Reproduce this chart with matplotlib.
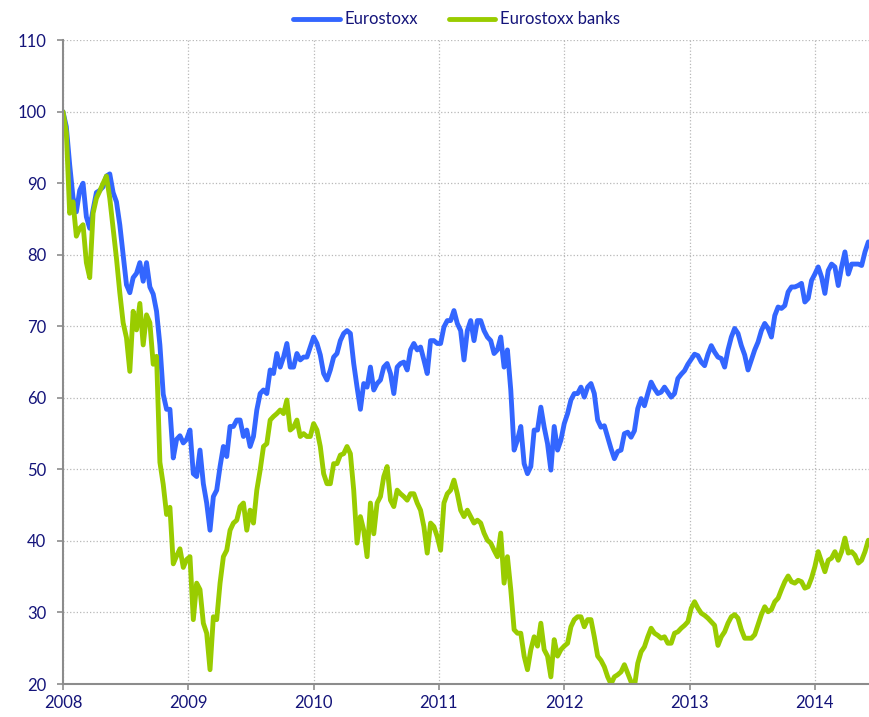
import numpy as np
import matplotlib
matplotlib.use("Agg")
import matplotlib.pyplot as plt

# Eurostoxx vs Eurostoxx banks, index 2008 = 100 (~10-day steps)
stoxx = [
    # 2008
    100, 97.9, 92.6, 88.0, 86.0, 89.0, 90.0, 85.3, 83.7, 86.3, 88.7, 89.0, 89.5,
    91.0, 91.3, 88.7, 87.4, 84.2, 80.0, 75.8, 74.7, 76.8, 77.4, 78.9, 76.3, 78.9,
    75.5, 74.5, 72.1, 67.4, 60.5, 58.4, 58.4, 51.6, 54.2, 54.7, 53.7, 54.2,
    # 2009
    55.5, 49.4, 49.0, 52.7, 48.0, 45.3, 41.5, 46.2, 47.1, 50.4, 53.2, 51.8, 56.0,
    56.0, 56.9, 56.9, 54.6, 55.5, 53.2, 54.6, 58.3, 60.6, 61.1, 60.6, 63.9, 63.4,
    66.2, 64.3, 65.7, 67.6, 64.3, 64.3, 66.2, 65.3, 65.7, 65.7, 67.1, 68.5,
    67.6, 66.0, 63.4, 62.5,
    # 2010
    63.9, 65.7, 66.2, 68.0, 69.0, 69.4, 69.0, 64.8, 61.5, 58.4, 62.0, 61.5, 64.3,
    61.1, 62.0, 62.5, 64.3, 64.8, 63.4, 60.6, 64.3, 64.8, 65.0, 63.9, 66.7, 67.6,
    66.7, 67.1, 65.3, 63.4, 68.0, 68.0, 67.6, 67.6, 69.9, 70.8,
    # 2011
    70.8, 72.2, 70.4, 69.4, 65.3, 69.4, 70.8, 68.0, 70.8, 70.8, 69.4, 68.5, 68.0,
    66.2, 66.7, 68.5, 64.3, 66.7, 61.1, 52.7, 54.1, 56.0, 50.8, 49.4, 50.4, 55.5,
    55.5, 58.7, 55.9, 53.6, 49.9, 56.0, 52.7, 54.1, 56.4, 57.8, 59.7, 60.6,
    60.6, 61.5, 60.1, 61.5, 62.0, 60.6, 56.9,
    # 2012
    55.9, 56.1, 54.5, 52.9, 51.5, 52.5, 52.7, 55.0, 55.2, 54.5, 55.4, 58.5, 59.9,
    58.9, 60.6, 62.2, 61.3, 60.6, 60.8, 61.5, 60.8, 60.1, 60.6, 62.7, 63.3, 63.8,
    64.7, 65.4, 66.1, 65.9, 65.0, 64.5, 66.1, 67.3, 66.4, 65.7,
    # 2013 - 2014
    65.5, 64.3, 66.7, 68.5, 69.7, 69.0, 67.3, 66.0, 63.9, 65.3, 66.7, 67.8, 69.4,
    70.4, 69.7, 68.5, 71.5, 72.7, 72.5, 72.9, 74.8, 75.5, 75.5, 75.7, 76.0, 73.4,
    73.9, 76.4, 77.3, 78.3, 76.9, 74.6, 77.8, 78.7, 78.3, 75.7, 78.3, 80.4,
    77.3, 78.7, 78.7, 78.7, 78.5, 80.4, 81.8,
]

banks = [
    # 2008
    100, 97.1, 85.8, 87.4, 82.6, 83.7, 84.2, 78.9, 76.8, 85.8, 87.9, 88.9, 90.0,
    91.0, 87.9, 83.7, 79.5, 74.7, 70.5, 68.4, 63.7, 72.1, 69.5, 73.2, 67.4, 71.6,
    70.5, 64.7, 65.8, 51.0, 47.9, 43.7, 44.7, 36.8, 37.9, 38.9, 36.3, 37.4,
    # 2009
    37.8, 29.0, 34.1, 33.2, 28.5, 27.1, 22.0, 29.4, 29.0, 34.1, 37.8, 38.7, 41.5,
    42.5, 42.9, 44.8, 45.3, 41.5, 44.3, 42.5, 47.1, 49.9, 53.2, 53.6, 56.9, 57.4,
    57.8, 58.3, 57.8, 59.7, 55.5, 55.9, 56.9, 54.6, 55.0, 54.6, 54.6, 56.4,
    55.5, 53.2, 49.4, 48.0,
    # 2010
    48.0, 50.8, 50.8, 52.0, 52.2, 53.2, 52.2, 47.1, 39.7, 43.4, 41.5, 37.8, 45.3,
    41.0, 45.3, 46.2, 49.0, 50.4, 45.7, 44.8, 47.1, 46.6, 46.2, 45.7, 46.6, 46.6,
    45.3, 44.3, 42.0, 38.3, 42.5, 42.0, 40.6, 38.7, 45.3, 46.6,
    # 2011
    47.1, 48.5, 46.6, 44.3, 43.4, 44.3, 43.4, 42.5, 42.9, 42.5, 41.1, 40.1, 39.7,
    38.7, 37.8, 41.1, 34.1, 37.8, 33.2, 27.6, 27.1, 27.1, 23.9, 22.0, 24.8, 26.6,
    25.3, 28.5, 24.8, 23.9, 21.0, 26.2, 23.9, 24.8, 25.3, 25.7, 28.0, 29.0,
    29.4, 29.4, 28.0, 29.0, 29.0, 26.6, 23.9,
    # 2012
    23.3, 22.4, 21.0, 20.0, 21.0, 21.3, 21.7, 22.7, 21.5, 20.3, 19.6, 22.9, 24.5,
    25.2, 26.6, 27.8, 27.1, 26.8, 26.4, 26.6, 25.7, 25.7, 27.1, 27.3, 27.8, 28.2,
    28.7, 30.6, 31.5, 30.6, 29.9, 29.6, 29.2, 28.7, 28.2, 25.4,
    # 2013 - 2014
    26.6, 27.3, 28.5, 29.4, 29.7, 29.2, 27.6, 26.4, 26.4, 26.4, 26.9, 28.3, 29.7,
    30.8, 30.1, 30.4, 31.5, 32.0, 33.2, 34.3, 35.1, 34.3, 34.1, 34.5, 34.3, 33.4,
    33.6, 34.8, 36.4, 38.5, 37.1, 35.7, 37.3, 37.6, 38.5, 37.3, 38.5, 40.4,
    38.3, 38.5, 38.0, 36.9, 37.3, 38.5, 40.1,
]

years = [2008, 2009, 2010, 2011, 2012, 2013, 2014]
t = 2008 + np.arange(len(stoxx)) / 37.5

navy = "#14147a"
plt.rcParams["font.family"] = ["Lato", "DejaVu Sans"]

fig = plt.figure(figsize=(8.7, 7.17), dpi=100)
ax = fig.add_axes([0.0724, 0.046, 0.9276, 0.898])

ax.plot(t, stoxx, color="#3366ff", lw=3.5, label="Eurostoxx", solid_capstyle="round")
ax.plot(t, banks, color="#99cc00", lw=3.5, label="Eurostoxx banks", solid_capstyle="round")

ax.set_xlim(2008, 2014.44)
ax.set_ylim(20, 110)
ax.set_xticks(years)
ax.set_xticklabels([str(y) for y in years])
ax.set_yticks(range(20, 111, 10))

ax.grid(True, color="#b8b8b8", linestyle=":", linewidth=0.9)
ax.set_axisbelow(True)
for s in ["top", "right"]:
    ax.spines[s].set_visible(False)
for s in ["left", "bottom"]:
    ax.spines[s].set_color("#8c8c8c")
    ax.spines[s].set_linewidth(1.5)
ax.tick_params(colors="#8c8c8c", labelcolor=navy, labelsize=12, length=4, width=1.2)
ax.tick_params(axis="y", pad=8)
ax.tick_params(axis="x", pad=4)

fig.legend(loc="upper center", bbox_to_anchor=(0.525, 1.005), ncol=2, frameon=False,
           fontsize=12, labelcolor=navy, handlelength=2.8, handletextpad=0.3,
           columnspacing=1.8)

fig.savefig("out.png", dpi=100)
